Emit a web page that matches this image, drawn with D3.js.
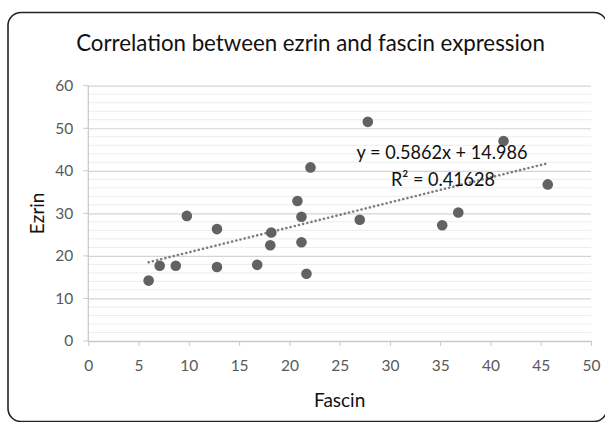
<!DOCTYPE html>
<html>
<head>
<meta charset="utf-8">
<script src="https://cdn.jsdelivr.net/npm/d3@7"></script>
<style>
html,body{margin:0;padding:0;background:#fff;}
svg{display:block;}
text{font-family:Lato,"Open Sans",sans-serif;}
</style>
</head>
<body>
<svg id="chart" width="605" height="422"></svg>
<script>
// Data
const fascin = [6.0, 7.1, 8.7, 9.8, 12.8, 12.8, 16.8, 18.1, 18.2, 20.8, 21.2, 21.2, 21.7, 22.1, 27.0, 27.8, 35.2, 36.8, 41.3, 45.7];
const ezrin  = [14.2, 17.7, 17.7, 29.4, 26.3, 17.4, 17.9, 22.5, 25.5, 32.9, 29.2, 23.2, 15.8, 40.8, 28.5, 51.5, 27.2, 30.2, 47.0, 36.8];
const xTicks = [0, 5, 10, 15, 20, 25, 30, 35, 40, 45, 50];
const yTicks = [0, 10, 20, 30, 40, 50, 60];
const yMinorTicks = [2,4,6,8,12,14,16,18,22,24,26,28,32,34,36,38,42,44,46,48,52,54,56,58];
const slope = 0.5862, intercept = 14.986, r2 = 0.41628;
const titleText = "Correlation between ezrin and fascin expression";
const xLabel = "Fascin", yLabel = "Ezrin";

const svg = d3.select("#chart");
const pL = 88.3, pR = 591, pT = 85.7, pB = 341;
const x = d3.scaleLinear().domain([0, 50]).range([pL, pR]);
const y = d3.scaleLinear().domain([0, 60]).range([pB, pT]);
const tickFont = "Lato, 'Open Sans', sans-serif";

// Frame
svg.append("rect").attr("x", 8).attr("y", 12.5).attr("width", 599).attr("height", 409)
  .attr("rx", 13).attr("ry", 13).attr("fill", "#fff").attr("stroke", "#222").attr("stroke-width", 1.6);

// Title (fit to the reference width without distorting)
const title = svg.append("text").attr("x", 310.5).attr("y", 51).attr("text-anchor", "middle")
  .attr("font-size", 25).attr("fill", "#111").text(titleText);
const tw = title.node().getComputedTextLength();
title.attr("font-size", 25 * 469 / tw);

// Minor gridlines
svg.append("g").selectAll("line").data(yMinorTicks).join("line")
  .attr("x1", pL).attr("x2", pR).attr("y1", d => y(d)).attr("y2", d => y(d))
  .attr("stroke", "#ececec").attr("stroke-width", 1);

// Major gridlines (y axis via d3 axis)
const yAxis = svg.append("g").attr("transform", `translate(${pL},0)`)
  .call(d3.axisLeft(y).tickValues(yTicks).tickSize(-(pR - pL)).tickPadding(15));
yAxis.select(".domain").remove();
yAxis.selectAll(".tick line").attr("stroke", "#d4d4d4").attr("stroke-width", 1.2);
yAxis.selectAll(".tick text").attr("font-size", 15.5).attr("fill", "#595959")
  .attr("font-family", tickFont);
// small outer ticks on y
svg.append("g").selectAll("line").data(yTicks).join("line")
  .attr("x1", pL - 5).attr("x2", pL).attr("y1", d => y(d)).attr("y2", d => y(d))
  .attr("stroke", "#c8c8c8").attr("stroke-width", 1);
// y axis line
svg.append("line").attr("x1", pL).attr("x2", pL).attr("y1", pT).attr("y2", pB)
  .attr("stroke", "#c8c8c8").attr("stroke-width", 1.2);

// X axis
const xAxis = svg.append("g").attr("transform", `translate(0,${pB})`)
  .call(d3.axisBottom(x).tickValues(xTicks).tickSize(5).tickSizeOuter(0).tickPadding(14));
xAxis.select(".domain").attr("stroke", "#c8c8c8").attr("stroke-width", 1.4);
xAxis.selectAll(".tick line").attr("stroke", "#c8c8c8");
xAxis.selectAll(".tick text").attr("font-size", 15.5).attr("fill", "#595959")
  .attr("font-family", tickFont);

// Axis titles
svg.append("text").attr("x", (pL + pR) / 2).attr("y", 407).attr("text-anchor", "middle")
  .attr("font-size", 19).attr("fill", "#111").text(xLabel);
svg.append("text").attr("transform", `translate(44,${(pT + pB) / 2}) rotate(-90)`)
  .attr("text-anchor", "middle").attr("font-size", 19).attr("fill", "#111").text(yLabel);

// Trendline
const xMin = d3.min(fascin), xMax = d3.max(fascin);
svg.append("line")
  .attr("x1", x(xMin)).attr("y1", y(slope * xMin + intercept))
  .attr("x2", x(xMax)).attr("y2", y(slope * xMax + intercept))
  .attr("stroke", "#7f7f7f").attr("stroke-width", 2.6)
  .attr("stroke-dasharray", "0.1 4.2").attr("stroke-linecap", "round");

// Points
const pts = fascin.map((f, i) => ({f, e: ezrin[i]}));
svg.append("g").selectAll("circle").data(pts).join("circle")
  .attr("cx", d => x(d.f)).attr("cy", d => y(d.e)).attr("r", 5.3)
  .attr("fill", "#626262");

// Equation
svg.append("text").attr("x", 442).attr("y", 159).attr("text-anchor", "middle")
  .attr("font-size", 19.5).attr("fill", "#111")
  .attr("textLength", 171).attr("lengthAdjust", "spacingAndGlyphs")
  .text(`y = ${slope}x + ${intercept}`);
svg.append("text").attr("x", 443).attr("y", 186).attr("text-anchor", "middle")
  .attr("font-size", 19.5).attr("fill", "#111")
  .attr("textLength", 104).attr("lengthAdjust", "spacingAndGlyphs")
  .text(`R² = ${r2}`);
</script>
</body>
</html>
